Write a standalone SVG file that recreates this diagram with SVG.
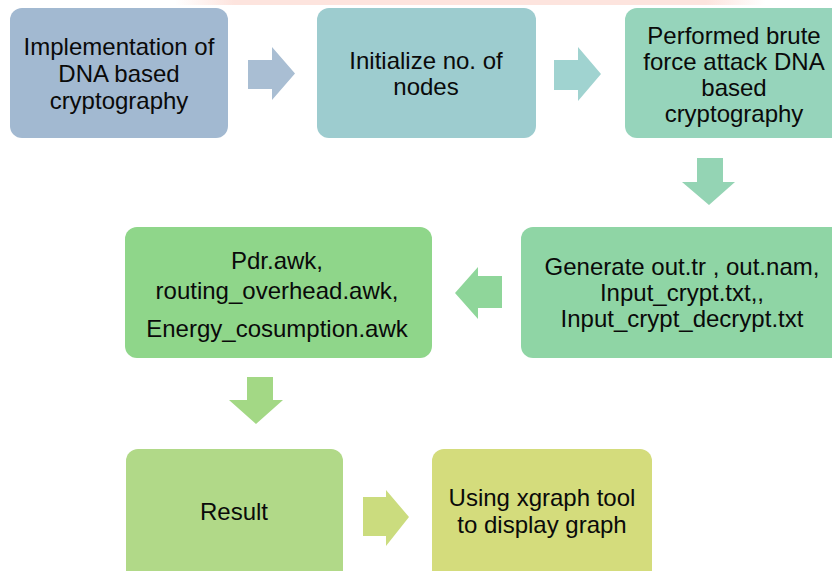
<svg xmlns="http://www.w3.org/2000/svg" width="832" height="571" viewBox="0 0 832 571">
<defs>
<linearGradient id="wm" x1="0" y1="0" x2="1" y2="0">
<stop offset="0" stop-color="#fde4de" stop-opacity="0"/>
<stop offset="0.1" stop-color="#fde4de"/>
<stop offset="0.9" stop-color="#fde4de"/>
<stop offset="1" stop-color="#fde4de" stop-opacity="0"/>
</linearGradient>
</defs>
<style>
text{font-family:"Liberation Sans",Arial,sans-serif;font-size:24px;fill:#0a0a0a;text-anchor:middle}
</style>
<rect width="832" height="571" fill="#fff"/>
<rect x="175" y="0" width="590" height="5" fill="url(#wm)"/>
<g id="connectors">
<polygon points="248,60 272,60 272,47 295,73.5 272,100 272,89 248,89" fill="#a9bed3"/>
<polygon points="554,60 578,60 578,47 601,74 578,101 578,90 554,90" fill="#a0d3d0"/>
<polygon points="697,158 723,158 723,182 735,182 709,205 682,182 697,182" fill="#94d4b4"/>
<polygon points="502,276 478,276 478,267 455,293 478,319 478,308 502,308" fill="#8fd69a"/>
<polygon points="247,377 273,377 273,400 283,400 256,424 229,400 247,400" fill="#a3d885"/>
<polygon points="363,497 386,497 386,490 409,517 386,546 386,536 363,536" fill="#cbdc7e"/>
</g>
<g id="n1"><rect x="10" y="8" width="218" height="130" rx="12" fill="#a2b9d1"/>
<text x="119" y="55">Implementation of</text><text x="119" y="82">DNA based</text><text x="119" y="109">cryptography</text></g>
<g id="n2"><rect x="317" y="8" width="219" height="130" rx="12" fill="#9dcccf"/>
<text x="426" y="69">Initialize no. of</text><text x="426" y="95">nodes</text></g>
<g id="n3"><rect x="625" y="8" width="219" height="130" rx="12" fill="#96d4bb"/>
<text x="734" y="44">Performed brute</text><text x="734" y="70">force attack DNA</text><text x="734" y="96">based</text><text x="734" y="122">cryptography</text></g>
<g id="n4"><rect x="521" y="227" width="322" height="131" rx="12" fill="#8fd5a5"/>
<text x="682" y="275">Generate out.tr , out.nam,</text><text x="682" y="301">Input_crypt.txt,,</text><text x="682" y="327">Input_crypt_decrypt.txt</text></g>
<g id="n5"><rect x="125" y="227" width="307" height="131" rx="12" fill="#8fd68a"/>
<text x="277" y="269">Pdr.awk,</text><text x="277" y="299">routing_overhead.awk,</text><text x="277" y="337">Energy_cosumption.awk</text></g>
<g id="n6"><rect x="126" y="449" width="217" height="140" rx="12" fill="#b1d988"/>
<text x="234" y="520">Result</text></g>
<g id="n7"><rect x="432" y="449" width="220" height="140" rx="12" fill="#d4dc7c"/>
<text x="542" y="506">Using xgraph tool</text><text x="542" y="533">to display graph</text></g>
</svg>
